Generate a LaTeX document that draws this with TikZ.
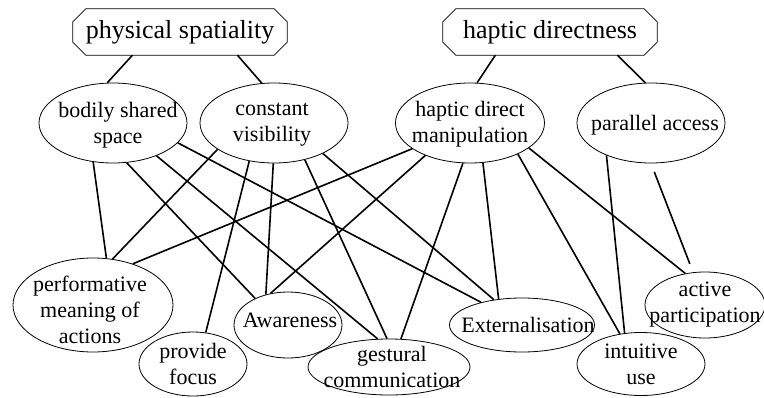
\documentclass[tikz,border=0pt]{standalone}
\usepackage{fontspec}
\setmainfont{Liberation Serif}
\usetikzlibrary{calc,shapes.geometric}
\tikzset{
	topic/.style={inner sep=0pt, minimum width=214pt, minimum height=46pt, font=\fontsize{26}{28}\selectfont},
	concept/.style={draw, ellipse, inner sep=0pt, line width=0.8pt},
	every label/.style={align=center, inner sep=0pt, font=\fontsize{22}{26}\selectfont},
	link/.style={line width=1.6pt}
}
\def\octframe(#1){\draw[line width=0.8pt] ($(#1.north west)+(13,0)$) -- ($(#1.north east)+(-13,0)$) -- ($(#1.north east)+(0,13)$) -- ($(#1.south east)+(0,-13)$) -- ($(#1.south east)+(-13,0)$) -- ($(#1.south west)+(13,0)$) -- ($(#1.south west)+(0,-13)$) -- ($(#1.north west)+(0,13)$) -- cycle;}

\begin{document}
\begin{tikzpicture}[x=1pt, y=-1pt]
			%%%%% START %%%%%
			\useasboundingbox (0, 0) rectangle (764, 397);
			
			\node[topic] (ps) at (180, 32) {physical spatiality};
			\node[topic] (hd) at (550, 32) {haptic directness};
			\octframe(ps);
			\octframe(hd);
			
			\node[concept, minimum width=148pt, minimum height=80pt, label={[xshift=5pt, yshift=-2pt]center:bodily shared\\space}] (bss) at (113, 123) {};
			\node[concept, minimum width=148pt, minimum height=80pt, label={[xshift=-2pt, yshift=-2pt]center:constant\\visibility}] (cv) at (274, 123) {};
			\node[concept, minimum width=149pt, minimum height=80pt, label={[yshift=-1pt]center:haptic direct\\manipulation}] (hdm) at (470, 123) {};
			\node[concept, minimum width=148pt, minimum height=80pt, label={[xshift=4pt, yshift=-2pt]center:parallel access}] (pa) at (651, 123) {};
			
			\node[concept, minimum width=160pt, minimum height=94pt, label={[xshift=-3pt, yshift=-5pt]center:performative\\meaning of\\actions}] (pm) at (93, 305) {};
			\node[concept, minimum width=108pt, minimum height=64pt, label={center:provide\\focus}] (pf) at (193, 364) {};
			\node[concept, minimum width=108pt, minimum height=66pt, label={[xshift=2pt, yshift=5pt]center:Awareness}] (aw) at (288, 325) {};
			\node[concept, minimum width=162pt, minimum height=56pt, label={[xshift=3pt]center:gestural\\communication}] (gc) at (389, 367) {};
			\node[concept, minimum width=145pt, minimum height=54pt, label={[xshift=6pt]center:Externalisation}] (ex) at (522, 325) {};
			\node[concept, minimum width=128pt, minimum height=63pt, label={center:intuitive\\use}] (iu) at (641, 364) {};
			\node[concept, minimum width=120pt, minimum height=66pt, label={center:active\\participation}] (ap) at (705, 305) {};
			
			\draw[link] (ps.-154) -- (bss.98);
			\draw[link] (ps.-22) -- (cv.107);
			\draw[link] (hd.-157) -- (hdm.80);
			\draw[link] (hd.-19) -- (pa.98);
			
			\draw[link] (bss.-117) -- (pm.74);
			\draw[link] (bss.-71) -- (aw.141);
			\draw[link] (bss.-37) -- (gc.112);
			\draw[link] (bss.-17) -- (ex.151);
			
			\draw[link] (cv.-155) -- (pm.67);
			\draw[link] (cv.-123) -- (pf.68);
			\draw[link] (cv.-91) -- (aw.126);
			\draw[link] (cv.-50) -- (gc.94);
			\draw[link] (cv.-32) -- (ex.138);
			
			\draw[link] (hdm.-156) -- (pm.46);
			\draw[link] (hdm.-144) -- (aw.119);
			\draw[link] (hdm.-100) -- (gc.67);
			\draw[link] (hdm.-72) -- (ex.132);
			\draw[link] (hdm.-33) -- (iu.125);
			\draw[link] (hdm.-23) -- (ap.122);
			
			\draw[link] (pa.-144) -- (iu.118);
			\draw[link, shorten <=9pt, shorten >=9pt] (pa.-90) -- (ap.110);
			%%%%% END %%%%%
\end{tikzpicture}
\end{document}
